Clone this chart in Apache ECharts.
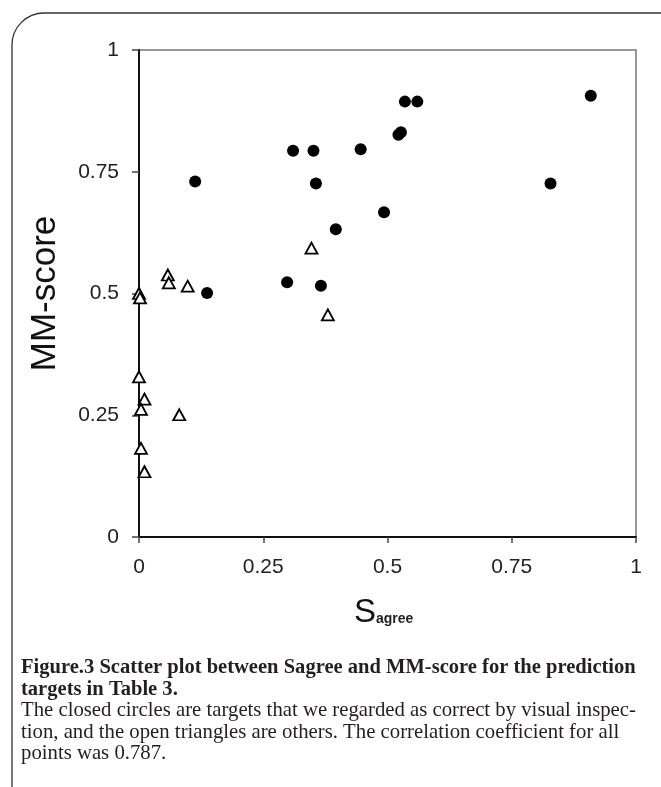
<!DOCTYPE html>
<html>
<head>
<meta charset="utf-8">
<script src="https://cdn.jsdelivr.net/npm/echarts@6/dist/echarts.min.js"></script>
<style>
html,body{margin:0;padding:0;background:#fff;}
#chart{width:661px;height:787px;}
</style>
</head>
<body>
<div id="chart"></div>
<script>
// closed circles: targets regarded as correct
const correctX = [0.535, 0.560, 0.909, 0.522, 0.527, 0.310, 0.351, 0.446, 0.356, 0.828, 0.493, 0.396, 0.298, 0.366, 0.137, 0.113];
const correctY = [0.894, 0.894, 0.906, 0.826, 0.831, 0.793, 0.793, 0.796, 0.726, 0.726, 0.667, 0.632, 0.523, 0.516, 0.501, 0.730];
// open triangles: others
const otherX = [0.058, 0.060, 0.098, 0.000, 0.002, 0.347, 0.380, 0.000, 0.011, 0.004, 0.081, 0.004, 0.011];
const otherY = [0.538, 0.522, 0.515, 0.500, 0.491, 0.593, 0.456, 0.329, 0.283, 0.262, 0.251, 0.182, 0.134];
const tickValues = [0, 0.25, 0.5, 0.75, 1];
const xTitle = 'S';
const xTitleSub = 'agree';
const yTitle = 'MM-score';
const captionLines = [
  {text: 'Figure.3 Scatter plot between Sagree and MM-score for the prediction', bold: true},
  {text: 'targets in Table 3.', bold: true},
  {text: 'The closed circles are targets that we regarded as correct by visual inspec-', bold: false},
  {text: 'tion, and the open triangles are others. The correlation coefficient for all', bold: false},
  {text: 'points was 0.787.', bold: false}
];

const chart = echarts.init(document.getElementById('chart'), null, {renderer: 'canvas'});
const zip = (a, b) => a.map((v, i) => [v, b[i]]);
const labelFmt = v => (tickValues.indexOf(v) >= 0 ? String(v) : '');
const axisFont = {fontFamily: 'Liberation Sans', fontSize: 21, color: '#222'};

// fit caption font size so the first (full) line spans the text block width
const capFamily = '"Liberation Serif"';
const ctx = document.createElement('canvas').getContext('2d');
function widthAt(size, bold, text) {
  ctx.font = (bold ? 'bold ' : '') + size + 'px ' + capFamily;
  return ctx.measureText(text).width;
}
const targetW = 615;
const wBold = widthAt(20, true, captionLines[0].text);
const wReg = widthAt(20, false, captionLines[2].text);
const sizeBold = 20 * targetW / wBold;
const sizeReg = 20 * targetW / wReg;

const graphics = [
  {type: 'rect', shape: {x: 12, y: 13, width: 700, height: 820, r: 32}, style: {fill: 'none', stroke: '#333', lineWidth: 1.3}, silent: true, z: -1},
  {type: 'text', left: 354, top: 596, style: {text: xTitle, font: '33px "Liberation Sans"', fill: '#111'}},
  {type: 'text', left: 376, top: 612, style: {text: xTitleSub, font: 'bold 14px "Liberation Sans"', fill: '#222'}}
];
const capTop = [657, 679, 700, 722, 743];
captionLines.forEach((l, i) => {
  graphics.push({type: 'text', left: 21, top: capTop[i], style: {
    text: l.text,
    font: (l.bold ? 'bold ' : '') + (l.bold ? sizeBold : sizeReg).toFixed(2) + 'px ' + capFamily,
    fill: '#231f20'
  }});
});

chart.setOption({
  animation: false,
  backgroundColor: '#fff',
  grid: {left: 139, top: 50, width: 497, height: 487, show: true, borderColor: '#777', borderWidth: 1.5, backgroundColor: 'transparent'},
  xAxis: {
    type: 'value', min: 0, max: 1, interval: 0.25,
    axisLine: {show: true, onZero: false, lineStyle: {color: '#111', width: 2}},
    axisTick: {show: true, inside: false, length: 6, lineStyle: {color: '#444', width: 1.5}},
    axisLabel: Object.assign({margin: 20, formatter: labelFmt}, axisFont),
    splitLine: {show: false}
  },
  yAxis: {
    type: 'value', min: 0, max: 1, interval: 0.25,
    name: yTitle, nameLocation: 'middle', nameGap: 76, nameRotate: 90,
    nameTextStyle: {fontFamily: 'Liberation Sans', fontSize: 35, color: '#111'},
    axisLine: {show: true, onZero: false, lineStyle: {color: '#111', width: 2}},
    axisTick: {show: true, inside: false, length: 7, lineStyle: {color: '#444', width: 1.5}},
    axisLabel: Object.assign({margin: 20, formatter: labelFmt}, axisFont),
    splitLine: {show: false}
  },
  series: [
    {
      name: 'correct', type: 'scatter', data: zip(correctX, correctY),
      symbol: 'circle', symbolSize: 12,
      itemStyle: {color: '#000', opacity: 1}, z: 3
    },
    {
      name: 'others', type: 'scatter', data: zip(otherX, otherY),
      symbol: 'triangle', symbolSize: [12, 11],
      itemStyle: {color: '#fff', borderColor: '#000', borderWidth: 1.8, opacity: 1}, z: 2
    }
  ],
  graphic: graphics
});
</script>
</body>
</html>
